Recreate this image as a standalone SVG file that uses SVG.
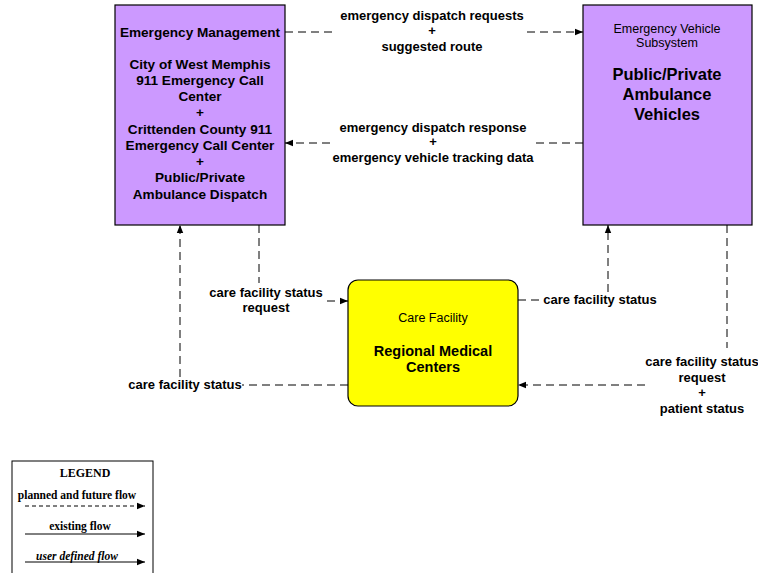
<svg xmlns="http://www.w3.org/2000/svg" width="758" height="573" viewBox="0 0 758 573">
  <style>
    .box { fill: #CC99FF; stroke: #000; stroke-width: 1.2; }
    .care { fill: #FFFF00; stroke: #000; stroke-width: 1.2; }
    .t { font-family: "Liberation Sans", Arial, sans-serif; font-size: 13.6px; font-weight: bold; fill: #000; text-anchor: middle; }
    .l { font-family: "Liberation Sans", Arial, sans-serif; font-size: 13px; font-weight: bold; fill: #000; text-anchor: middle; }
    .sub { font-family: "Liberation Sans", Arial, sans-serif; font-size: 12.5px; fill: #000; text-anchor: middle; }
    .big { font-family: "Liberation Sans", Arial, sans-serif; font-size: 16.5px; font-weight: bold; fill: #000; text-anchor: middle; }
    .mid { font-family: "Liberation Sans", Arial, sans-serif; font-size: 14.5px; font-weight: bold; fill: #000; text-anchor: middle; }
    .flow { fill: none; stroke: #000; stroke-width: 1; stroke-dasharray: 8 5; }
    .solid { fill: none; stroke: #000; stroke-width: 1; }
    .leg { font-family: "Liberation Serif", "Times New Roman", serif; font-size: 11.5px; font-weight: bold; fill: #000; text-anchor: middle; }
  </style>
  <defs>
    <marker id="arrow" viewBox="0 0 10 10" refX="10" refY="5" markerWidth="8" markerHeight="8" markerUnits="userSpaceOnUse" orient="auto">
      <path d="M0,1 L10,5 L0,9 Z" fill="#000"/>
    </marker>
  </defs>

  <rect width="758" height="573" fill="#fff"/>

  <!-- Emergency Management node -->
  <g id="emergency-management">
    <rect class="box" x="115" y="5" width="170" height="220"/>
    <text class="t" x="200" y="37">Emergency Management</text>
    <text class="t" x="200" y="69">City of West Memphis</text>
    <text class="t" x="200" y="85">911 Emergency Call</text>
    <text class="t" x="200" y="101">Center</text>
    <text class="t" x="200" y="117">+</text>
    <text class="t" x="200" y="134">Crittenden County 911</text>
    <text class="t" x="200" y="150">Emergency Call Center</text>
    <text class="t" x="200" y="166">+</text>
    <text class="t" x="200" y="182">Public/Private</text>
    <text class="t" x="200" y="199">Ambulance Dispatch</text>
  </g>

  <!-- Emergency Vehicle Subsystem node -->
  <g id="emergency-vehicle">
    <rect class="box" x="583" y="5" width="169" height="220"/>
    <text class="sub" x="667" y="33">Emergency Vehicle</text>
    <text class="sub" x="667" y="47">Subsystem</text>
    <text class="big" x="667" y="80">Public/Private</text>
    <text class="big" x="667" y="100">Ambulance</text>
    <text class="big" x="667" y="120">Vehicles</text>
  </g>

  <!-- Care Facility node -->
  <g id="care-facility">
    <rect class="care" x="348" y="280" width="170" height="126" rx="10" ry="10"/>
    <text class="sub" x="433" y="322">Care Facility</text>
    <text class="mid" x="433" y="356">Regional Medical</text>
    <text class="mid" x="433" y="372">Centers</text>
  </g>

  <!-- Connectors -->
  <g id="connectors">
    <!-- dispatch requests -->
    <path class="flow" d="M285,32 H337"/>
    <path class="flow" d="M527,32 H583" marker-end="url(#arrow)"/>
    <text class="l" x="432" y="20">emergency dispatch requests</text>
    <text class="l" x="432" y="35">+</text>
    <text class="l" x="432" y="51">suggested route</text>

    <!-- dispatch response -->
    <path class="flow" d="M583,143 H533"/>
    <path class="flow" d="M330,143 H285" marker-end="url(#arrow)"/>
    <text class="l" x="433" y="132">emergency dispatch response</text>
    <text class="l" x="433" y="146">+</text>
    <text class="l" x="433" y="162">emergency vehicle tracking data</text>

    <!-- care facility status request (EM to CF) -->
    <path class="flow" d="M259,225 V283"/>
    <path class="flow" d="M327,301 H348" marker-end="url(#arrow)"/>
    <text class="l" x="266" y="297">care facility status</text>
    <text class="l" x="266" y="312">request</text>

    <!-- care facility status (CF to EM) -->
    <path class="flow" d="M348,385 H242"/>
    <path class="flow" d="M180,377 V225" marker-end="url(#arrow)"/>
    <text class="l" x="185" y="389">care facility status</text>

    <!-- care facility status (CF to EV) -->
    <path class="flow" d="M518,300 H542"/>
    <path class="flow" d="M608,292 V225" marker-end="url(#arrow)"/>
    <text class="l" x="600" y="304">care facility status</text>

    <!-- care facility status request + patient status (EV to CF) -->
    <path class="flow" d="M727,225 V348"/>
    <path class="flow" d="M645,385 H518" marker-end="url(#arrow)"/>
    <text class="l" x="702" y="366">care facility status</text>
    <text class="l" x="702" y="382">request</text>
    <text class="l" x="702" y="397">+</text>
    <text class="l" x="702" y="413">patient status</text>
  </g>

  <!-- Legend -->
  <g id="legend">
    <rect x="12" y="461" width="141" height="120" fill="#fff" stroke="#000" stroke-width="1"/>
    <text class="leg" x="85" y="477" style="font-size:12px">LEGEND</text>
    <text class="leg" x="77" y="499">planned and future flow</text>
    <path class="solid" d="M25,506 H145" stroke-dasharray="4 3" marker-end="url(#arrow)"/>
    <text class="leg" x="80" y="530">existing flow</text>
    <path class="solid" d="M25,534 H145" marker-end="url(#arrow)"/>
    <text class="leg" x="77" y="560" style="font-style:italic">user defined flow</text>
    <path class="solid" d="M25,562 H145" marker-end="url(#arrow)"/>
  </g>
</svg>
